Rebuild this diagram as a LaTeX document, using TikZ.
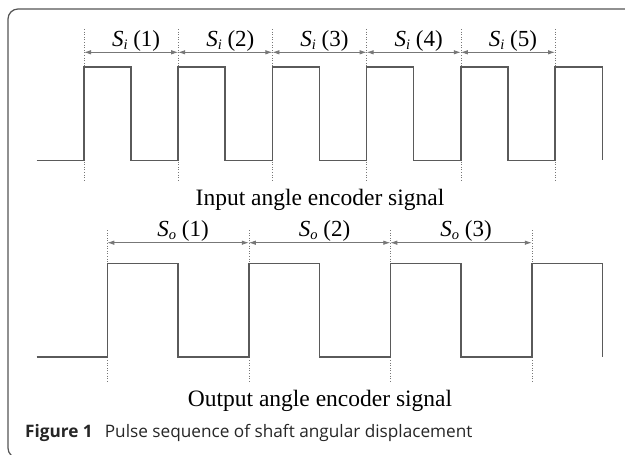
\documentclass[tikz,border=0pt]{standalone}
\usepackage{fontspec}
\setmainfont{Liberation Serif}
\newfontfamily\capfont{Open Sans}
\usetikzlibrary{arrows.meta,calc}

\definecolor{wave}{HTML}{5A5A5A}
\definecolor{dimgrey}{HTML}{777777}
\definecolor{framegrey}{HTML}{555555}

% label of the form S_x (n)
\newcommand{\sglab}[2]{\textit{S}\raisebox{-0.1em}{\fontsize{14.5}{14.5}\selectfont\textit{#1}} (#2)}

\tikzset{
  x=1pt, y=-1pt,
  signal/.style={draw=wave, line width=1.5pt, line join=miter},
  guide/.style={draw=dimgrey, line width=0.6pt, dotted},
  span/.style={draw=dimgrey, line width=0.8pt, {Latex[length=7pt,width=4.5pt]}-{Latex[length=7pt,width=4.5pt]}},
  lab/.style={font=\fontsize{23}{23}\selectfont, anchor=base, inner sep=0pt},
  title/.style={font=\fontsize{23.5}{23.5}\selectfont, anchor=base, inner sep=0pt},
  frame/.style={draw=framegrey, line width=1.2pt, rounded corners=10pt}
}

\begin{document}
\begin{tikzpicture}
\useasboundingbox (0,0) rectangle (625,455);
\clip (0,0) rectangle (625,455);

% outer frame (left and top sides)
\draw[frame] (640,9) -- (8,9) -- (8,458) -- (640,458);

% ---------- input encoder signal ----------
\foreach \k/\r in {1/84, 2/178.2, 3/272.4, 4/366.6, 5/460.8, 6/555}{
  \coordinate (ir\k) at (\r,52.3);
  \draw[guide] (\r,29) -- (\r,182);
}
\draw[signal] (36.7,160.3)
  -- (84,160.3) -- (84,67) -- (131,67) -- (131,160.3)
  -- (178.2,160.3) -- (178.2,67) -- (225.2,67) -- (225.2,160.3)
  -- (272.4,160.3) -- (272.4,67) -- (319.4,67) -- (319.4,160.3)
  -- (366.6,160.3) -- (366.6,67) -- (413.6,67) -- (413.6,160.3)
  -- (460.8,160.3) -- (460.8,67) -- (507.8,67) -- (507.8,160.3)
  -- (555,160.3) -- (555,67) -- (602.3,67) -- (602.3,160.3);
\foreach \a/\b in {1/2, 2/3, 3/4, 4/5, 5/6}{
  \draw[span] (ir\a) -- (ir\b);
  \node[lab] (si\a) at ($(ir\a)!0.5!(ir\b) + (5,-5.6)$) {\sglab{i}{\a}};
}
\node[title] (intitle) at (320,205) {Input angle encoder signal};

% ---------- output encoder signal ----------
\foreach \k/\r in {1/107.3, 2/248.8, 3/390.3, 4/531.8}{
  \coordinate (or\k) at (\r,242.7);
  \draw[guide] (\r,230) -- (\r,383);
}
\draw[signal] (36.7,357)
  -- (107.3,357) -- (107.3,263.3) -- (178,263.3) -- (178,357)
  -- (248.8,357) -- (248.8,263.3) -- (319.5,263.3) -- (319.5,357)
  -- (390.3,357) -- (390.3,263.3) -- (461,263.3) -- (461,357)
  -- (531.8,357) -- (531.8,263.3) -- (602.3,263.3) -- (602.3,357);
\foreach \a/\b in {1/2, 2/3, 3/4}{
  \draw[span] (or\a) -- (or\b);
  \node[lab] (so\a) at ($(or\a)!0.5!(or\b) + (5,-6)$) {\sglab{o}{\a}};
}
\node[title] (outtitle) at (320,406) {Output angle encoder signal};

% ---------- caption ----------
\node[anchor=base west, inner sep=0pt, font=\capfont\fontsize{17.2}{17.2}\selectfont, text=black!85]
  (caption) at (25,437.3) {\textbf{Figure 1}\hspace{0.7em}Pulse sequence of shaft angular displacement};
\end{tikzpicture}
\end{document}
